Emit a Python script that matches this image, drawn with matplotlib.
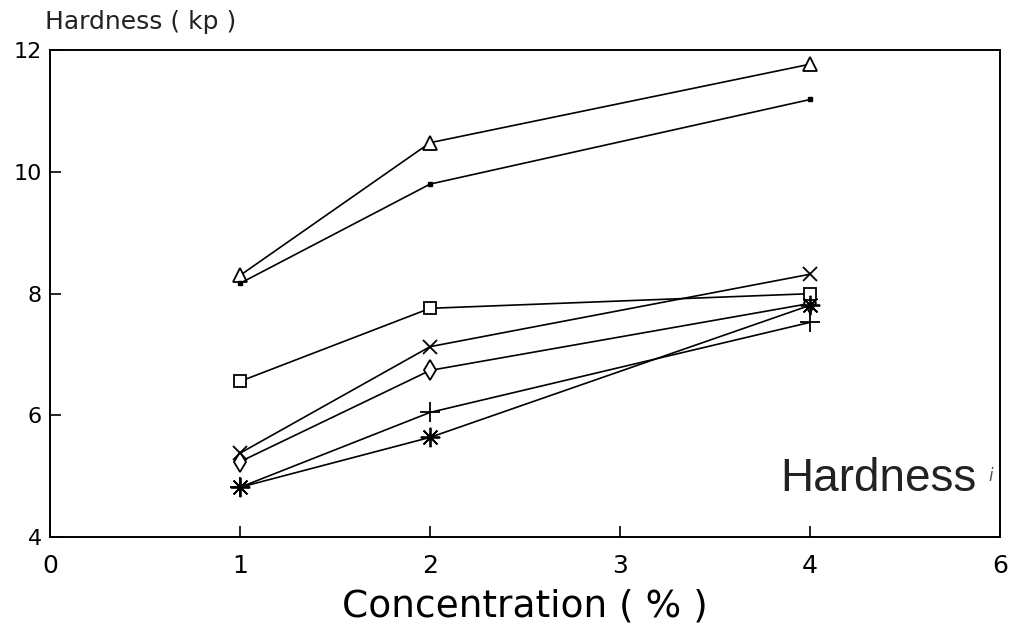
import matplotlib
matplotlib.use("Agg")
import matplotlib.pyplot as plt

# concentration (%) and hardness (kp)
conc = [1, 2, 4]
tick_pos = [0, 1, 2, 3, 4, 5]
tick_labels = ['0', '1', '2', '3', '4', '6']
y_ticks = [4, 6, 8, 10, 12]

triangle = [8.30, 10.48, 11.77]
dot = [8.17, 9.80, 11.19]
square = [6.56, 7.76, 8.00]
cross = [5.38, 7.13, 8.32]
diamond = [5.24, 6.74, 7.84]
plus = [4.82, 6.05, 7.53]
star = [4.82, 5.64, 7.81]

fig = plt.figure(figsize=(10.24, 6.35), dpi=100)
ax = fig.add_axes([0.0488, 0.154, 0.928, 0.767])

lw = 1.2
kw = dict(color='black', lw=lw, mfc='white', mec='black', mew=1.3)
ax.plot(conc, diamond, marker='d', ms=10, **kw)
ax.plot(conc, triangle, marker='^', ms=10, **kw)
ax.plot(conc, dot, marker='s', ms=2.5, color='black', lw=lw)
ax.plot(conc, square, marker='s', ms=9, **kw)
ax.plot(conc, cross, marker='x', ms=10, color='black', lw=lw, mew=1.3)
ax.plot(conc, plus, marker='+', ms=14, color='black', lw=lw, mew=1.3)
ax.plot(conc, star, marker=(8, 2, 0), ms=14, color='black', lw=lw, mew=1.3)

ax.set_xlim(0, 5)
ax.set_ylim(4, 12)
ax.set_xticks(tick_pos)
ax.set_xticklabels(tick_labels, fontsize=18)
ax.set_yticks(y_ticks)
ax.set_yticklabels([str(v) for v in y_ticks], fontsize=16)
ax.tick_params(axis='both', direction='in', length=8, width=1.2, colors='black',
               top=False, right=False)
ax.tick_params(axis='x', pad=12)
ax.tick_params(axis='y', pad=6)
for s in ax.spines.values():
    s.set_linewidth(1.4)

ax.set_xlabel('Concentration ( % )', fontsize=27, labelpad=8)
fig.text(0.044, 0.965, 'Hardness ( kp )', fontsize=18, ha='left', va='center',
         color='#222222')

ax.text(0.975, 0.12, 'Hardness', transform=ax.transAxes, family='Liberation Sans',
        fontsize=33, ha='right', va='center', color='#222222')
ax.text(0.99, 0.125, 'i', transform=ax.transAxes, fontsize=12, style='italic',
        ha='center', va='center', color='#555555')

fig.savefig('out.png', dpi=100)
